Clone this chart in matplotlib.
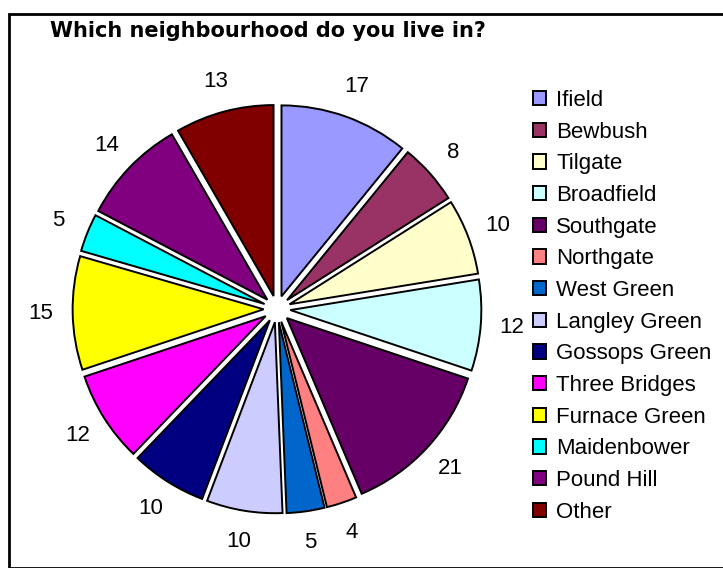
import matplotlib
matplotlib.use('Agg')
import matplotlib.pyplot as plt
import matplotlib.patches as patches

plt.rcParams['font.family'] = ['Liberation Sans', 'DejaVu Sans']

# Data
neighbourhoods = ["Ifield", "Bewbush", "Tilgate", "Broadfield", "Southgate", "Northgate",
                  "West Green", "Langley Green", "Gossops Green", "Three Bridges",
                  "Furnace Green", "Maidenbower", "Pound Hill", "Other"]
counts = [17, 8, 10, 12, 21, 4, 5, 10, 10, 12, 15, 5, 14, 13]
colors = ["#9999FF", "#993366", "#FFFFCC", "#CCFFFF", "#660066", "#FF8080",
          "#0066CC", "#CCCCFF", "#000080", "#FF00FF", "#FFFF00", "#00FFFF",
          "#800080", "#800000"]

W, H = 723, 568
fig = plt.figure(figsize=(W / 100, H / 100), dpi=100)

# outer chart frame
frame = patches.Rectangle((9 / W, 0), 1.0, (H - 14) / H, transform=fig.transFigure,
                          fill=False, edgecolor='black', linewidth=2)
fig.patches.append(frame)

# pie axes: centre at pixel (277, 309), 1 unit = 191 px
cx, cy, half, unit = 277, 309, 250, 191.0
ax = fig.add_axes([(cx - half) / W, (H - cy - half) / H, 2 * half / W, 2 * half / H])

wedges, texts = ax.pie(counts, colors=colors, labels=[str(c) for c in counts],
                       startangle=90, counterclock=False, radius=1.0,
                       explode=[0.07] * len(counts), labeldistance=1.165,
                       wedgeprops=dict(edgecolor='black', linewidth=1.4),
                       textprops=dict(fontsize=16, color='black'))
for t in texts:
    t.set_horizontalalignment('center')
    t.set_verticalalignment('center')

# pie() autoscales, so fix the limits afterwards
ax.set_xlim(-half / unit, half / unit)
ax.set_ylim(-half / unit, half / unit)
ax.set_aspect('equal')
ax.axis('off')

fig.text(50 / W, 1 - 31 / H, "Which neighbourhood do you live in?", fontsize=15,
         fontweight='bold', family='DejaVu Sans', ha='left', va='center')

leg = fig.legend(wedges, neighbourhoods, loc='upper left',
                 bbox_to_anchor=(533 / W, 1 - 90 / H), frameon=False,
                 fontsize=16, handlelength=0.6, handleheight=0.6,
                 handletextpad=0.45, labelspacing=0.48, borderpad=0,
                 borderaxespad=0)
for h in leg.legend_handles:
    h.set_linewidth(1.4)

fig.savefig('out.png', dpi=100, facecolor='white')
